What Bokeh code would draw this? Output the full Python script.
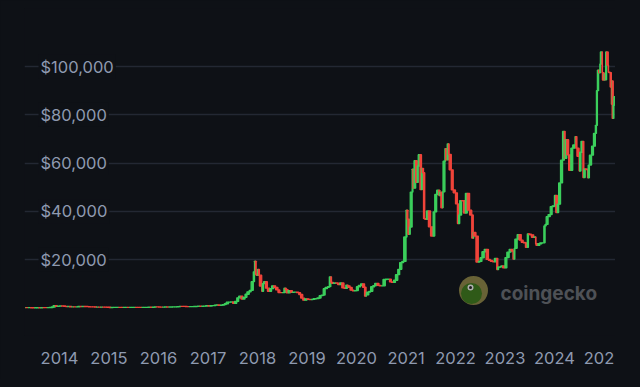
import pandas as pd
from bokeh.plotting import figure
from bokeh.models import (ColumnDataSource, FixedTicker, DatetimeTickFormatter,
                          Range1d, Label, GlobalInlineStyleSheet, DatetimeAxis)
from bokeh.core.properties import value
from bokeh.embed import file_html
from bokeh.resources import INLINE

# ---------------- data (BTC price, USD) ----------------
dates = [
    "2013-04-28", "2013-05-15", "2013-06-01", "2013-06-15", "2013-07-01", "2013-07-15", "2013-08-01", "2013-08-15",
    "2013-09-01", "2013-09-15", "2013-10-01", "2013-10-15", "2013-11-01", "2013-11-15", "2013-12-01", "2013-12-15",
    "2014-01-01", "2014-01-15", "2014-02-01", "2014-02-15", "2014-03-01", "2014-03-15", "2014-04-01", "2014-04-15",
    "2014-05-01", "2014-05-15", "2014-06-01", "2014-06-15", "2014-07-01", "2014-07-15", "2014-08-01", "2014-08-15",
    "2014-09-01", "2014-09-15", "2014-10-01", "2014-10-15", "2014-11-01", "2014-11-15", "2014-12-01", "2014-12-15",
    "2015-01-01", "2015-01-15", "2015-02-01", "2015-02-15", "2015-03-01", "2015-03-15", "2015-04-01", "2015-04-15",
    "2015-05-01", "2015-05-15", "2015-06-01", "2015-06-15", "2015-07-01", "2015-07-15", "2015-08-01", "2015-08-15",
    "2015-09-01", "2015-09-15", "2015-10-01", "2015-10-15", "2015-11-01", "2015-11-15", "2015-12-01", "2015-12-15",
    "2016-01-01", "2016-01-15", "2016-02-01", "2016-02-15", "2016-03-01", "2016-03-15", "2016-04-01", "2016-04-15",
    "2016-05-01", "2016-05-15", "2016-06-01", "2016-06-15", "2016-07-01", "2016-07-15", "2016-08-01", "2016-08-15",
    "2016-09-01", "2016-09-15", "2016-10-01", "2016-10-15", "2016-11-01", "2016-11-15", "2016-12-01", "2016-12-15",
    "2017-01-01", "2017-01-15", "2017-02-01", "2017-02-15", "2017-03-01", "2017-03-15", "2017-04-01", "2017-04-15",
    "2017-05-01", "2017-05-15", "2017-06-01", "2017-06-15", "2017-07-01", "2017-07-15", "2017-08-01", "2017-08-15",
    "2017-09-01", "2017-09-15", "2017-10-01", "2017-10-15", "2017-11-01", "2017-11-15", "2017-12-01", "2017-12-10",
    "2017-12-17", "2017-12-22",
    "2018-01-01", "2018-01-08", "2018-01-15", "2018-02-01", "2018-02-06", "2018-02-15", "2018-03-01", "2018-03-15",
    "2018-04-01", "2018-04-15", "2018-05-01", "2018-05-15", "2018-06-01", "2018-06-15", "2018-07-01", "2018-07-15",
    "2018-07-25", "2018-08-01", "2018-08-15", "2018-09-01", "2018-09-15", "2018-10-01", "2018-10-15", "2018-11-01",
    "2018-11-15", "2018-12-01", "2018-12-15",
    "2019-01-01", "2019-01-15", "2019-02-01", "2019-02-15", "2019-03-01", "2019-03-15", "2019-04-01", "2019-04-15",
    "2019-05-01", "2019-05-15", "2019-06-01", "2019-06-15", "2019-06-26", "2019-07-01", "2019-07-15", "2019-08-01",
    "2019-08-15", "2019-09-01", "2019-09-15", "2019-10-01", "2019-10-15", "2019-10-26", "2019-11-01", "2019-11-15",
    "2019-12-01", "2019-12-15",
    "2020-01-01", "2020-01-15", "2020-02-01", "2020-02-15", "2020-03-01", "2020-03-12", "2020-03-15", "2020-04-01",
    "2020-04-15", "2020-05-01", "2020-05-15", "2020-06-01", "2020-06-15", "2020-07-01", "2020-07-15", "2020-08-01",
    "2020-08-15", "2020-09-01", "2020-09-15", "2020-10-01", "2020-10-15", "2020-11-01", "2020-11-15", "2020-12-01",
    "2020-12-15",
    "2021-01-01", "2021-01-08", "2021-01-15", "2021-01-27", "2021-02-01", "2021-02-15", "2021-02-21", "2021-03-01",
    "2021-03-13", "2021-03-25", "2021-04-01", "2021-04-14", "2021-04-25", "2021-05-01", "2021-05-10", "2021-05-19",
    "2021-06-01", "2021-06-15", "2021-07-01", "2021-07-20", "2021-08-01", "2021-08-15", "2021-09-01", "2021-09-07",
    "2021-09-15", "2021-09-29", "2021-10-01", "2021-10-15", "2021-10-20", "2021-11-01", "2021-11-10", "2021-11-15",
    "2021-12-01", "2021-12-15",
    "2022-01-01", "2022-01-15", "2022-01-24", "2022-02-01", "2022-02-15", "2022-03-01", "2022-03-15", "2022-03-29",
    "2022-04-15", "2022-05-01", "2022-05-12", "2022-05-15", "2022-06-01", "2022-06-18", "2022-07-01", "2022-07-15",
    "2022-08-01", "2022-08-15", "2022-09-01", "2022-09-15", "2022-10-01", "2022-10-15", "2022-11-01", "2022-11-09",
    "2022-11-15", "2022-12-01", "2022-12-15",
    "2023-01-01", "2023-01-15", "2023-02-01", "2023-02-15", "2023-03-01", "2023-03-10", "2023-03-15", "2023-04-01",
    "2023-04-15", "2023-05-01", "2023-05-15", "2023-06-01", "2023-06-15", "2023-06-23", "2023-07-01", "2023-07-15",
    "2023-08-01", "2023-08-15", "2023-08-18", "2023-09-01", "2023-09-15", "2023-10-01", "2023-10-15", "2023-10-24",
    "2023-11-01", "2023-11-15", "2023-12-01", "2023-12-15",
    "2024-01-01", "2024-01-11", "2024-01-23", "2024-02-01", "2024-02-15", "2024-03-01", "2024-03-14", "2024-03-20",
    "2024-04-01", "2024-04-15", "2024-05-01", "2024-05-15", "2024-06-01", "2024-06-07", "2024-06-15", "2024-07-01",
    "2024-07-05", "2024-07-15", "2024-07-29", "2024-08-05", "2024-08-15", "2024-09-01", "2024-09-06", "2024-09-15",
    "2024-10-01", "2024-10-15", "2024-10-29", "2024-11-06", "2024-11-13", "2024-11-22", "2024-12-01", "2024-12-05",
    "2024-12-17", "2024-12-20",
    "2025-01-01", "2025-01-07", "2025-01-13", "2025-01-20", "2025-02-01", "2025-02-03", "2025-02-15", "2025-02-24",
    "2025-02-28", "2025-03-02", "2025-03-10", "2025-03-15", "2025-03-24",
]
closes = [
    135, 115, 129, 100, 88, 98, 105, 100,
    135, 130, 125, 150, 205, 420, 1000, 700,
    750, 850, 830, 650, 560, 630, 470, 500,
    450, 450, 630, 590, 640, 620, 590, 500,
    480, 475, 385, 395, 325, 400, 380, 350,
    315, 210, 225, 235, 260, 285, 245, 220,
    232, 237, 222, 236, 257, 285, 280, 260,
    228, 230, 237, 255, 325, 320, 360, 455,
    430, 375, 370, 400, 430, 415, 415, 430,
    450, 455, 535, 690, 675, 665, 605, 570,
    575, 610, 615, 640, 730, 710, 755, 780,
    1000, 820, 985, 1010, 1220, 1250, 1080, 1180,
    1420, 1750, 2400, 2450, 2480, 1950, 2720, 4200,
    4890, 3700, 4400, 5700, 6700, 7300, 10900, 15000,
    19400, 14000,
    13500, 16000, 13600, 9100, 6900, 10100, 10900, 8200,
    6900, 8000, 9200, 8500, 7500, 6400, 6350, 6350,
    8200, 7600, 6300, 7200, 6500, 6600, 6600, 6350,
    5600, 4100, 3250,
    3800, 3600, 3450, 3600, 3820, 3920, 4150, 5100,
    5350, 8000, 8550, 8850, 12900, 10600, 10200, 10400,
    10300, 9700, 10350, 8300, 8100, 9500, 9200, 8500,
    7400, 7100,
    7200, 8800, 9400, 10000, 8600, 4900, 5400, 6600,
    6900, 8800, 9300, 10200, 9400, 9200, 9200, 11800,
    11900, 11900, 10800, 10600, 11500, 13800, 16000, 18800,
    19300,
    29400, 40500, 36800, 30500, 33500, 48000, 57500, 49600,
    61000, 52000, 58800, 63500, 49000, 57800, 56000, 37000,
    36700, 40200, 33600, 29800, 39800, 47000, 48800, 46500,
    48000, 41500, 48100, 60800, 66000, 61300, 68000, 63600,
    57200, 48900,
    47700, 43100, 35000, 38500, 44500, 44400, 39300, 47500,
    40500, 38500, 28900, 31300, 29800, 19000, 19300, 20800,
    23300, 24300, 20100, 19700, 19300, 19100, 20500, 15900,
    16900, 17000, 17400,
    16600, 20900, 23100, 24300, 23600, 20200, 24700, 28500,
    30400, 28100, 27200, 27000, 25100, 30700, 30600, 30300,
    29300, 29400, 26600, 25900, 26600, 27000, 27000, 34000,
    34600, 37800, 38700, 42000,
    42300, 46600, 39500, 43000, 51800, 61200, 73100, 62000,
    69700, 63400, 57000, 66200, 67500, 71000, 66200, 62800,
    56700, 64500, 69000, 54000, 57600, 57300, 53900, 59200,
    63300, 67000, 72300, 75600, 90000, 98500, 97400, 101000,
    106000, 97500,
    94400, 96900, 94500, 106000, 100600, 97700, 97500, 91500,
    84400, 94000, 78500, 84000, 87500,
]
year_tick_dates = ["2014-01-01", "2015-01-01", "2016-01-01", "2017-01-01", "2018-01-01", "2019-01-01",
                   "2020-01-01", "2021-01-01", "2022-01-01", "2023-01-01", "2024-01-01", "2025-01-01"]
y_ticks = [20000, 40000, 60000, 80000, 100000]
y_labels = ["$20,000", "$40,000", "$60,000", "$80,000", "$100,000"]

# ---------------- styling ----------------
BG = "#0e1116"
GRID = "#232833"
LABEL = "#8e9ab0"
UP = "#3bcf5c"
DOWN = "#f0443a"
FONT = "Inter"

MS_DAY = 86400000.0
t = [pd.Timestamp(d).value / 1e6 for d in dates]
opens = [closes[0]] + closes[:-1]
lefts = [t[0] - 7 * MS_DAY] + t[:-1]
src = ColumnDataSource(dict(
    left=lefts, right=t,
    bottom=[min(o, c) for o, c in zip(opens, closes)],
    top=[max(o, c) for o, c in zip(opens, closes)],
    color=[UP if c >= o else DOWN for o, c in zip(opens, closes)],
))

# layout: canvas at page (0,0); frame spans px x 24..615, y 8..335
FL, FR, FT, FB = 24, 615, 8, 335
W = 632
YEAR_MS = 365.25 * MS_DAY
t2014 = pd.Timestamp("2014-01-01").value / 1e6
px_per_year = 49.5
x2014_px = 59
x_start = t2014 - (x2014_px - FL) / px_per_year * YEAR_MS
x_end = t2014 + (FR - x2014_px) / px_per_year * YEAR_MS
px_per_val = 241.5 / 100000
zero_px = 307.5
y_top = (zero_px - FT) / px_per_val
y_bot = (zero_px - FB) / px_per_val

p = figure(width=W, height=379, output_backend="svg", toolbar_location=None,
           x_axis_type=None, y_axis_location=None,
           x_range=Range1d(x_start, x_end), y_range=Range1d(y_bot, y_top),
           min_border_left=FL, min_border_right=W - FR, min_border_top=FT, min_border_bottom=379 - FB)
p.background_fill_color = BG
p.border_fill_color = BG
p.outline_line_color = None
# the chart area is cut at the right edge of the plot frame (clips the last year label)
p.styles = {"clip-path": f"inset(0px {W - FR}px 0px 0px)"}

# horizontal grid
p.ygrid.ticker = FixedTicker(ticks=y_ticks)
p.ygrid.grid_line_color = GRID
p.ygrid.grid_line_width = 1.5

xaxis = DatetimeAxis(
    ticker=FixedTicker(ticks=[pd.Timestamp(d).value / 1e6 for d in year_tick_dates]),
    formatter=DatetimeTickFormatter(years="%Y", months="%Y", days="%Y", hours="%Y",
                                    minutes="%Y", seconds="%Y", milliseconds="%Y"),
    axis_line_color=None, major_tick_line_color=None, minor_tick_line_color=None,
    major_tick_in=0, major_tick_out=0,
    major_label_text_font=FONT, major_label_text_font_size="16.5px",
    major_label_text_color=LABEL, major_label_standoff=16,
)
p.add_layout(xaxis, "below")

p.quad(left="left", right="right", bottom="bottom", top="top", source=src,
       fill_color="color", line_color="color", line_width=1.3)

p.text(x=[x_start] * len(y_ticks), y=y_ticks, text=y_labels, x_offset=14,
       text_align="left", text_baseline="middle", text_font=value(FONT),
       text_font_size="16.5px", text_color=LABEL,
       background_fill_color=BG, padding=2)

# watermark (layout px converted to data space)
def fx(px):
    return x_start + (px - FL) / (FR - FL) * (x_end - x_start)

def fy(py):
    return y_top - (py - FT) / (FB - FT) * (y_top - y_bot)

p.scatter(x=[fx(473)], y=[fy(290)], size=29, marker="circle", fill_color="#686236", line_color=None)
p.scatter(x=[fx(471)], y=[fy(293)], size=21, marker="circle", fill_color="#2f5a18", line_color=None)
p.scatter(x=[fx(470)], y=[fy(287)], size=6, marker="circle", fill_color="#b0b0b0", line_color=None)
p.scatter(x=[fx(470)], y=[fy(287)], size=3, marker="circle", fill_color="#202020", line_color=None)
p.add_layout(Label(x=fx(500), y=fy(293), text="coingecko", text_font=FONT, text_font_style="bold",
                   text_font_size="19px", text_color="#4e5156", text_baseline="middle"))

p.stylesheets = [GlobalInlineStyleSheet(css="html, body { background: #0e1116; }")]

open("out.html", "w").write(file_html(p, INLINE))
